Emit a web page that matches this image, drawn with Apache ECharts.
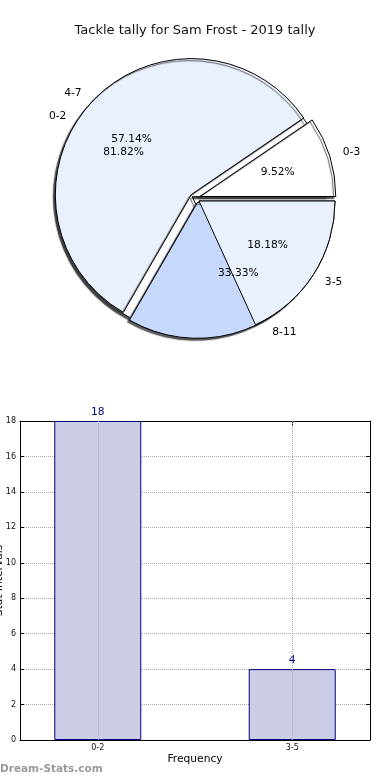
<!DOCTYPE html>
<html><head><meta charset="utf-8">
<script src="https://cdn.jsdelivr.net/npm/echarts@6/dist/echarts.min.js"></script>
<style>html,body{margin:0;padding:0;background:#fff}#c{width:390px;height:780px}</style>
</head><body><div id="c"></div>
<script>
// ---- data ----
const titleText = 'Tackle tally for Sam Frost - 2019 tally';
const pieANames = ['0-2', '3-5'];
const pieAValues = [18, 4];
const pieBNames = ['0-3', '4-7', '8-11'];
const pieBValues = [2, 12, 7];
const barCategories = ['0-2', '3-5'];
const barValues = [18, 4];
const yMax = 18;
const yStep = 2;
const xAxisName = 'Frequency';
const yAxisName = 'Stat Intervals';
const watermark = 'Dream-Stats.com';

// ---- styles ----
const FONT = 'DejaVu Sans';
const R = 136;
const centerA = [199, 201];
const centerB = [195, 198];
const explodeA = 8;
const explodeB = 5;
const colorsA = ['#ffffff', '#eaf1fe'];
const colorsB = ['#ffffff', '#eaf1fe', '#c6d9fd'];
const CLEAR = 'rgba(0,0,0,0)';
const shadow = {shadowColor: 'rgba(60,60,60,0.85)', shadowBlur: 1, shadowOffsetX: -2, shadowOffsetY: 2};

const sum = a => a.reduce((s, v) => s + v, 0);
const totalA = sum(pieAValues), totalB = sum(pieBValues);

function pieBase(center, radius, z, extra) {
  return Object.assign({
    type: 'pie', center: center, radius: radius, z: z,
    startAngle: 0, clockwise: false, avoidLabelOverlap: false,
    silent: true, animation: false, emphasis: {disabled: true},
    label: {show: false}, labelLine: {show: false}
  }, extra);
}
function items(names, values, styleFn, selFn) {
  return names.map((n, i) => ({name: n, value: values[i], selected: selFn ? selFn(i) : false, itemStyle: styleFn(i)}));
}
const clearStyle = () => ({color: CLEAR, borderWidth: 0});
const selA = i => i === 0;     // 0-2 wedge pulled out
const selB = () => true;       // all wedges of second pie pulled out
function pctLabel(total) {
  return {show: true, position: 'inside', formatter: p => (p.value / total * 100).toFixed(2) + '%',
          color: '#000', fontSize: 10.7, fontFamily: FONT};
}
const nameLabel = {show: true, position: 'outside', formatter: '{b}', color: '#000', fontSize: 10.7, fontFamily: FONT, distanceToLabelLine: 0};
const nameLine = {show: false, length: 0.1 * R, length2: 0};
const pctR = 2 * (0.6 * R - 3);

const series = [
  // pie A base
  pieBase(centerA, R, 1, {
    selectedMode: 'multiple', selectedOffset: explodeA,
    data: items(pieANames, pieAValues, i => Object.assign({color: colorsA[i], borderColor: '#000', borderWidth: 1}, shadow), selA)
  }),
  // pie B, exploded
  pieBase(centerB, R, 2, {
    selectedMode: 'multiple', selectedOffset: explodeB,
    data: items(pieBNames, pieBValues, i => Object.assign({color: colorsB[i], borderColor: '#000', borderWidth: 1}, shadow), selB)
  }),
  // pie A upper layer (3-5 wedge drawn on top)
  pieBase(centerA, R, 3, {
    selectedMode: 'multiple', selectedOffset: explodeA,
    data: items(pieANames, pieAValues, i => i === 0 ? {color: CLEAR, borderWidth: 0} : {color: colorsA[i], borderColor: '#000', borderWidth: 1}, selA)
  }),
  // labels
  pieBase(centerA, pctR, 5, {selectedMode: 'multiple', selectedOffset: explodeA, label: pctLabel(totalA), data: items(pieANames, pieAValues, clearStyle, selA)}),
  pieBase(centerA, R, 5, {selectedMode: 'multiple', selectedOffset: explodeA, label: nameLabel, labelLine: nameLine, data: items(pieANames, pieAValues, clearStyle, selA)}),
  pieBase(centerB, pctR, 5, {selectedMode: 'multiple', selectedOffset: explodeB, label: pctLabel(totalB), data: items(pieBNames, pieBValues, clearStyle, selB)}),
  pieBase(centerB, R, 5, {selectedMode: 'multiple', selectedOffset: explodeB, label: nameLabel, labelLine: nameLine, data: items(pieBNames, pieBValues, clearStyle, selB)}),
  // bar chart
  {
    type: 'bar', xAxisIndex: 0, yAxisIndex: 0, barWidth: 87, z: 2, animation: false,
    data: barCategories.map((c, i) => [i, barValues[i]]),
    itemStyle: {color: '#ccccE6', borderColor: '#000080', borderWidth: 1},
    label: {show: true, position: 'top', distance: 3, color: '#000080', fontSize: 10.7, fontFamily: FONT},
    markLine: {
      silent: true, symbol: 'none', animation: false,
      label: {show: false},
      lineStyle: {type: 'dotted', color: '#aaaaaa', width: 1},
      data: barCategories.map((c, i) => ({xAxis: i}))
    }
  }
];

const tickIdx = barCategories.map((c, i) => i);
const axisLine = {show: true, onZero: false, lineStyle: {color: '#000', width: 1}};
const yTick = {show: true, inside: true, length: 4, lineStyle: {color: '#000'}};
const xTick = {show: true, inside: true, length: 4, customValues: tickIdx, lineStyle: {color: '#000'}};

const option = {
  backgroundColor: '#fff',
  animation: false,
  textStyle: {fontFamily: FONT},
  title: {text: titleText, left: 'center', top: 19, textStyle: {fontSize: 13, fontWeight: 'normal', color: '#111', fontFamily: FONT}},
  grid: {left: 20, right: 20, top: 421, bottom: 40, outerBoundsMode: 'none', containLabel: false},
  xAxis: [
    {
      type: 'value', position: 'bottom', min: -0.4, max: 1.4,
      axisLine: axisLine, axisTick: xTick, splitLine: {show: false},
      axisLabel: {customValues: tickIdx, formatter: v => barCategories[Math.round(v)], fontSize: 8, color: '#111', margin: 4},
      name: xAxisName, nameLocation: 'middle', nameGap: 14, nameMoveOverlap: false,
      nameTextStyle: {fontSize: 10.7, color: '#000', fontFamily: FONT}
    },
    {
      type: 'value', position: 'top', min: -0.4, max: 1.4,
      axisLine: axisLine, axisTick: xTick, splitLine: {show: false},
      axisLabel: {show: false}
    }
  ],
  yAxis: [
    {
      type: 'value', position: 'left', min: 0, max: yMax, interval: yStep,
      axisLine: axisLine, axisTick: yTick,
      axisLabel: {fontSize: 8, color: '#111', margin: 4},
      splitLine: {show: true, lineStyle: {type: 'dotted', color: '#aaaaaa', width: 1}},
      name: yAxisName, nameLocation: 'middle', nameGap: 15, nameMoveOverlap: false,
      nameTextStyle: {fontSize: 10.7, color: '#000', fontFamily: FONT}
    },
    {
      type: 'value', position: 'right', min: 0, max: yMax, interval: yStep,
      axisLine: axisLine, axisTick: yTick, splitLine: {show: false},
      axisLabel: {show: false}
    }
  ],
  graphic: [{
    type: 'text', left: 0, top: 764, silent: true,
    style: {text: watermark, fontSize: 10.5, fontWeight: 'bold', fill: '#9a9a9a', fontFamily: FONT}
  }],
  series: series
};

const chart = echarts.init(document.getElementById('c'), null, {renderer: 'canvas'});
chart.setOption(option);
</script>
</body></html>
